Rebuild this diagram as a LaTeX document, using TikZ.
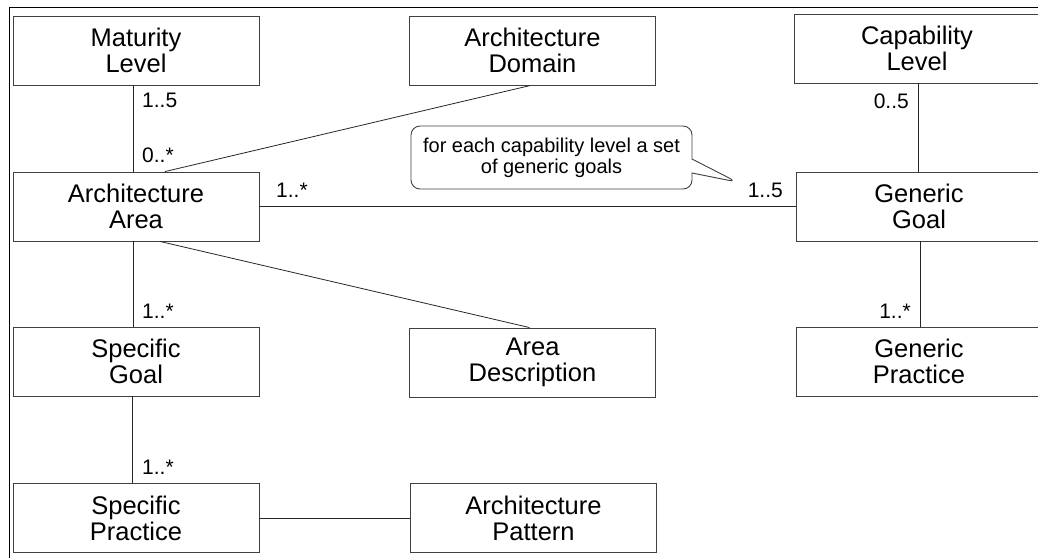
\documentclass[tikz,border=0pt]{standalone}
\usepackage{fontspec}
\setmainfont{Liberation Sans}
\usetikzlibrary{shapes.callouts}

\begin{document}
\begin{tikzpicture}[x=1pt,y=-1pt]
    \tikzset{entity/.style={rectangle,minimum width=246pt ,minimum height=69pt, inner sep=0pt, draw=black!75, line width=0.9pt, align=center, font=\fontsize{25.5}{26}\selectfont, execute at end node={\par\vspace{5pt}}}}
    \tikzset{mult/.style={inner sep=0pt, font=\fontsize{21}{22}\selectfont}}
    \tikzset{note/.style={rectangle callout, rounded corners=9pt, draw=black!75, line width=0.9pt, minimum width=281pt, minimum height=63pt, align=center, font=\fontsize{20}{21}\selectfont, callout pointer width=14pt}}
    \tikzset{assoc/.style={draw=black!85, line width=0.8pt}}
    \useasboundingbox (0,0) rectangle (1038,558);
    % frame
    \draw[line width=0.9pt] (9,558) -- (9,7) -- (1040,7);
    \draw (136,50.5) node[entity](mat){Maturity\\Level};
    \draw (532.5,50.5) node[entity](dom){Architecture\\Domain};
    \draw (917,48.5) node[entity](cap){Capability\\Level};
    \draw (136,206.5) node[entity](area){Architecture\\Area};
    \draw (919,206.5) node[entity](goal){Generic\\Goal};
    \draw (136,361.5) node[entity](sgoal){Specific\\Goal};
    \draw (532.5,362.5) node[entity](adesc){Area\\Description};
    \draw (919,361.5) node[entity](gprac){Generic\\Practice};
    \draw (136,518) node[entity](sprac){Specific\\Practice};
    \draw (533.5,518) node[entity](apat){Architecture\\Pattern};
    \coordinate (tip) at (737,182);
    \draw (551.5,157.5) node[note, callout absolute pointer={(tip)}](n1){for each capability level a set\\of generic goals};
    \draw[assoc] ([xshift=-3pt]mat.south) -- ([xshift=-3pt]area.north);
    \draw[assoc] ([xshift=-2pt]dom.south) -- ([xshift=29pt]area.north);
    \draw[assoc] (area.east) -- (goal.west);
    \draw[assoc] ([xshift=1pt]cap.south) -- ([xshift=-1pt]goal.north);
    \draw[assoc] ([xshift=1pt]goal.south) -- ([xshift=1pt]gprac.north);
    \draw[assoc] ([xshift=-3pt]area.south) -- ([xshift=-3pt]sgoal.north);
    \draw[assoc] ([xshift=24pt]area.south) -- ([xshift=-3pt]adesc.north);
    \draw[assoc] ([xshift=-4pt]sgoal.south) -- ([xshift=-4pt]sprac.north);
    \draw[assoc] (sprac.east) -- (apat.west);
    \draw (142,100) node[mult,anchor=west](m1){1..5};
    \draw (142,155) node[mult,anchor=west](m2){0..*};
    \draw (276,190) node[mult,anchor=west](m3){1..*};
    \draw (783,190) node[mult,anchor=east](m4){1..5};
    \draw (909,101) node[mult,anchor=east](m5){0..5};
    \draw (142,311) node[mult,anchor=west](m6){1..*};
    \draw (911,311) node[mult,anchor=east](m7){1..*};
    \draw (142,467) node[mult,anchor=west](m8){1..*};
\end{tikzpicture}
\end{document}
